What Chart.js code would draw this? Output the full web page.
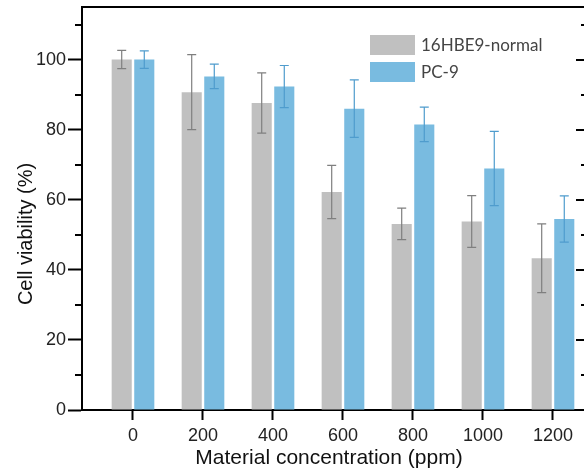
<!DOCTYPE html>
<html>
<head>
<meta charset="utf-8">
<script src="https://cdn.jsdelivr.net/npm/chart.js@4"></script>
<style>
  html, body { margin: 0; padding: 0; background: #fff; overflow: hidden; }
  #wrap { position: relative; width: 584px; height: 475px; }
  canvas { display: block; }
  #topFrame { position: absolute; left: 81px; top: 6px; width: 503px; height: 2px; background: #000; }
</style>
</head>
<body>
<div id="wrap"><canvas id="viabilityChart" width="584" height="475"></canvas><div id="topFrame"></div></div>
<script>
// concentrations (ppm) and viability values
const concentrations = [0, 200, 400, 600, 800, 1000, 1200];
const normalMean = [100, 90.7, 87.6, 62.2, 53.1, 53.8, 43.3];
const normalErr  = [2.6, 10.7, 8.6, 7.6, 4.5, 7.4, 9.8];
const pc9Mean    = [100, 95.2, 92.3, 86, 81.5, 68.9, 54.5];
const pc9Err     = [2.5, 3.5, 6, 8.2, 4.9, 10.6, 6.6];
const yMajorTicks = [0, 20, 40, 60, 80, 100];
const yMinorTicks = [10, 30, 50, 70, 90, 110];

const errorColors = ["#7f7f7f", "#4f9ccd"];
const errors = [normalErr, pc9Err];

// error bars drawn on top of the bars
const errorBars = {
    id: "errorBars",
    afterDatasetsDraw(chart) {
        const ctx = chart.ctx, y = chart.scales.y;
        chart.data.datasets.forEach((ds, di) => {
            const meta = chart.getDatasetMeta(di);
            ctx.save();
            ctx.strokeStyle = errorColors[di];
            ctx.lineWidth = 1.2;
            meta.data.forEach((bar, i) => {
                const v = ds.data[i].y, e = errors[di][i];
                const top = y.getPixelForValue(v + e), bot = y.getPixelForValue(v - e);
                ctx.beginPath();
                ctx.moveTo(bar.x, top); ctx.lineTo(bar.x, bot);
                ctx.moveTo(bar.x - 4.5, top); ctx.lineTo(bar.x + 4.5, top);
                ctx.moveTo(bar.x - 4.5, bot); ctx.lineTo(bar.x + 4.5, bot);
                ctx.stroke();
            });
            ctx.restore();
        });
    }
};

// top frame line, minor ticks and mirrored right ticks
const frame = {
    id: "frame",
    afterDraw(chart) {
        const ctx = chart.ctx, a = chart.chartArea, y = chart.scales.y;
        ctx.save();
        ctx.fillStyle = "#000";
        ctx.fillRect(a.left - 1, a.top - 1, a.right - a.left + 1, 2);
        yMinorTicks.forEach(t => {
            const p = Math.round(y.getPixelForValue(t));
            ctx.fillRect(a.left - 7, p - 1, 7, 2);
            ctx.fillRect(a.right - 3, p - 1, 3, 2);
        });
        yMajorTicks.forEach(t => {
            const p = Math.round(y.getPixelForValue(t));
            ctx.fillRect(a.right - 8, p - 1, 8, 2);
        });
        ctx.restore();
    }
};

// axis titles and legend
const labels = {
    id: "labels",
    afterDraw(chart) {
        const ctx = chart.ctx;
        ctx.save();
        ctx.fillStyle = "#111";
        ctx.font = "20px 'Liberation Sans', Arial, sans-serif";
        ctx.textAlign = "center";
        ctx.textBaseline = "middle";
        ctx.save();
        ctx.translate(26, 234);
        ctx.rotate(-Math.PI / 2);
        ctx.fillText("Cell viability (%)", 0, 0);
        ctx.restore();
        ctx.font = "21px 'Liberation Sans', Arial, sans-serif";
        ctx.fillText("Material concentration (ppm)", 329, 458);

        ctx.textAlign = "left";
        ctx.font = "17px Lato, 'Open Sans', sans-serif";
        chart.data.datasets.forEach((ds, i) => {
            const top = 35 + i * 27;
            ctx.fillStyle = ds.backgroundColor;
            ctx.fillRect(370, top, 45, 20);
            ctx.fillStyle = "#444";
            ctx.fillText(ds.label, 421, top + 11);
        });
        ctx.restore();
    }
};

new Chart(document.getElementById("viabilityChart"), {
    type: "bar",
    data: {
        datasets: [{
            label: "16HBE9-normal",
            data: concentrations.map((c, i) => ({ x: c, y: normalMean[i] })),
            backgroundColor: "#c0c0c0"
        }, {
            label: "PC-9",
            data: concentrations.map((c, i) => ({ x: c, y: pc9Mean[i] })),
            backgroundColor: "#79bbe0"
        }]
    },
    options: {
        responsive: false,
        animation: false,
        events: [],
        layout: { padding: { top: 7, right: 0, left: 0, bottom: 0 } },
        categoryPercentage: 0.645,
        barPercentage: 0.89,
        plugins: { legend: { display: false }, tooltip: { enabled: false } },
        scales: {
            x: {
                type: "linear",
                offset: false,
                min: -145.7,
                max: 1288.6,
                afterBuildTicks: s => { s.ticks = concentrations.map(v => ({ value: v })); },
                afterFit: s => { s.height = 65; s.paddingLeft = 0; s.paddingRight = 0; },
                border: { display: true, color: "#000", width: 2 },
                grid: { offset: false, drawOnChartArea: false, drawTicks: true, tickLength: 10, tickWidth: 2, tickColor: "#000" },
                ticks: {
                    color: "#222",
                    font: { size: 18, family: "'Liberation Sans', Arial, sans-serif" },
                    padding: 5,
                    maxRotation: 0,
                    callback: v => String(v)
                }
            },
            y: {
                min: 0,
                max: 115,
                afterBuildTicks: s => { s.ticks = yMajorTicks.map(v => ({ value: v })); },
                afterFit: s => { s.width = 82; s.paddingTop = 0; s.paddingBottom = 0; },
                border: { display: true, color: "#000", width: 2 },
                grid: { drawOnChartArea: false, drawTicks: true, tickLength: 14, tickWidth: 2, tickColor: "#000" },
                ticks: { color: "#222", font: { size: 18, family: "'Liberation Sans', Arial, sans-serif" }, padding: 2 }
            }
        }
    },
    plugins: [errorBars, frame, labels]
});
</script>
</body>
</html>
